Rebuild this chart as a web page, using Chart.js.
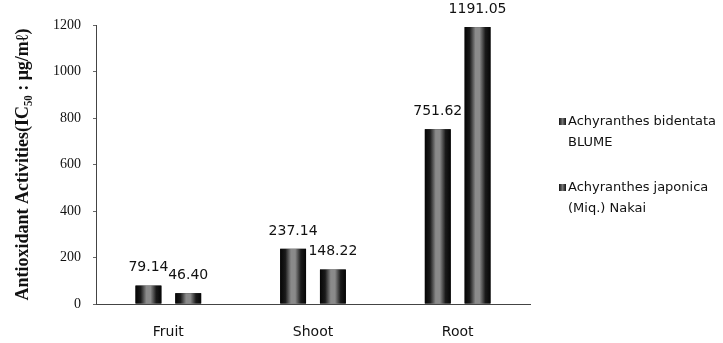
<!DOCTYPE html>
<html>
<head>
<meta charset="utf-8">
<script src="https://cdn.jsdelivr.net/npm/chart.js@4/dist/chart.umd.min.js"></script>
<style>
html,body{margin:0;padding:0;background:#fff;}
#wrap{position:relative;width:723px;height:343px;}
</style>
</head>
<body>
<div id="wrap"><canvas id="c" width="723" height="343"></canvas></div>
<script>
const categories = ["Fruit", "Shoot", "Root"];
const bidentataValues = [79.14, 237.14, 751.62];
const japonicaValues = [46.40, 148.22, 1191.05];
const seriesNames = ["Achyranthes bidentata BLUME", "Achyranthes japonica (Miq.) Nakai"];
const legendLines = [["Achyranthes bidentata", "BLUME"], ["Achyranthes japonica", "(Miq.) Nakai"]];
const yTicks = [0, 200, 400, 600, 800, 1000, 1200];
const yTitle = "Antioxidant Activities(IC\u2085\u2080 : \u03bcg/m\u2113)";

const barStyle = {
  id: 'barStyle',
  afterDatasetsDraw(chart) {
    const ctx = chart.ctx;
    chart.data.datasets.forEach((ds, di) => {
      const meta = chart.getDatasetMeta(di);
      meta.data.forEach((bar, i) => {
        const w = bar.width, l = bar.x - w / 2, top = bar.y, h = bar.base - bar.y;
        const g = ctx.createLinearGradient(l, 0, l + w, 0);
        g.addColorStop(0, '#050505');
        g.addColorStop(0.2, '#1a1a1a');
        g.addColorStop(0.42, '#8a8a8a');
        g.addColorStop(0.58, '#8a8a8a');
        g.addColorStop(0.8, '#1a1a1a');
        g.addColorStop(1, '#050505');
        ctx.save();
        ctx.fillStyle = g;
        ctx.fillRect(l, top, w, h);
        ctx.restore();
        ctx.save();
        ctx.font = '14px "DejaVu Sans"';
        ctx.fillStyle = '#111';
        ctx.textAlign = 'center';
        ctx.textBaseline = 'middle';
        ctx.fillText(ds.data[i].toFixed(2), bar.x, bar.y - 18);
        ctx.restore();
      });
    });
  }
};

const legendPlugin = {
  id: 'sideLegend',
  afterDraw(chart) {
    const ctx = chart.ctx;
    const x0 = 559, ys = [122, 188];
    legendLines.forEach((lines, i) => {
      const y = ys[i];
      const g = ctx.createLinearGradient(x0, 0, x0 + 7, 0);
      g.addColorStop(0, '#111'); g.addColorStop(0.5, '#777'); g.addColorStop(1, '#111');
      ctx.fillStyle = g;
      ctx.fillRect(x0, y - 4, 7, 7);
      ctx.font = '13px "DejaVu Sans"';
      ctx.fillStyle = '#111';
      ctx.textAlign = 'left';
      ctx.textBaseline = 'middle';
      lines.forEach((t, k) => {
        ctx.fillText(t, x0 + 9, y + k * 21);
      });
    });
  }
};

new Chart(document.getElementById('c'), {
  type: 'bar',
  data: {
    labels: categories,
    datasets: [
      { label: seriesNames[0], data: bidentataValues, backgroundColor: '#111', categoryPercentage: 0.55, barPercentage: 0.65 },
      { label: seriesNames[1], data: japonicaValues, backgroundColor: '#111', categoryPercentage: 0.55, barPercentage: 0.65 }
    ]
  },
  options: {
    responsive: false,
    animation: false,
    events: [],
    layout: { padding: { top: 25, right: 193, bottom: 0, left: 0 } },
    plugins: { legend: { display: false }, tooltip: { enabled: false } },
    scales: {
      x: {
        grid: { display: false },
        border: { display: true, color: '#444', dash: [1, 2] },
        ticks: { font: { family: 'DejaVu Sans', size: 14 }, color: '#111', padding: 12 },
        afterFit(s) { s.height = 39; }
      },
      y: {
        min: 0, max: 1200,
        afterBuildTicks(s) { s.ticks = yTicks.map(v => ({ value: v })); },
        grid: { drawOnChartArea: false, tickLength: 3, tickColor: '#666' },
        border: { display: true, color: '#444', dash: [1, 2] },
        ticks: { font: { family: 'Liberation Serif', size: 14 }, color: '#111', padding: 12, callback: v => String(v) },
        title: { display: true, text: yTitle, font: { family: 'Liberation Serif', size: 18, weight: 'bold' }, color: '#111', padding: { top: 13, bottom: 0 } },
        afterFit(s) { s.width = 96; }
      }
    }
  },
  plugins: [barStyle, legendPlugin]
});
</script>
</body>
</html>
